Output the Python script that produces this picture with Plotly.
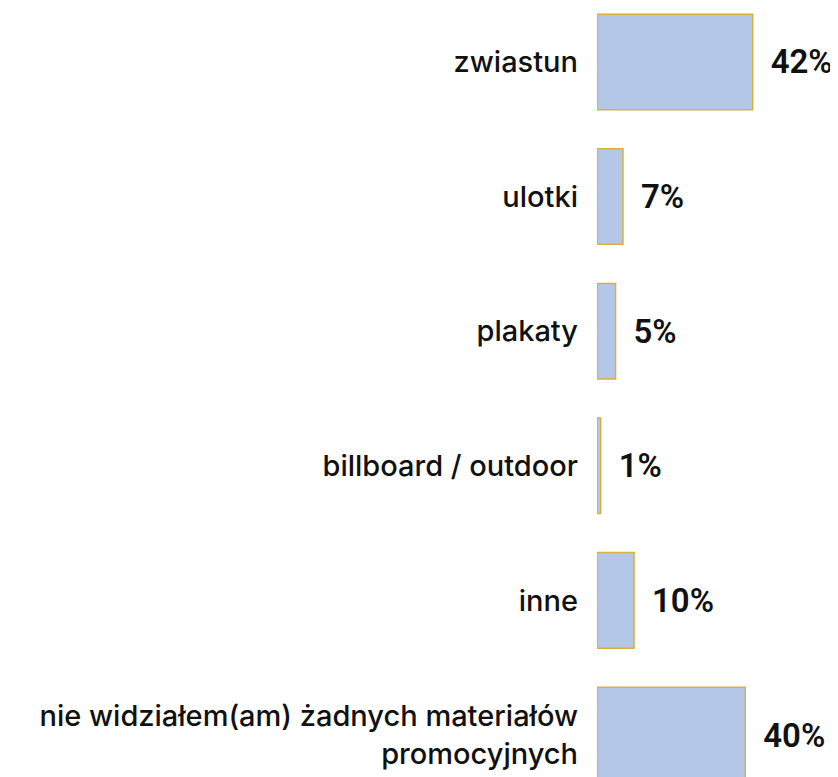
import plotly.graph_objects as go

categories = ["zwiastun", "ulotki", "plakaty", "billboard / outdoor", "inne",
              "nie widziałem(am) żadnych materiałów<br>promocyjnych"]
values = [42, 7, 5, 1, 10, 40]
labels = ["42%", "7%", "5%", "1%", "10%", "40%"]

fig = go.Figure(go.Bar(
    x=values, y=categories, orientation="h",
    marker=dict(color="#b4c7e7", line=dict(color="#dcae3c", width=1.5)),
    width=0.71,
    text=["\u00a0\u2009" + t for t in labels],
    textposition="outside",
    textfont=dict(family="Roboto", size=33, color="#111111", weight=600),
    constraintext="none",
    cliponaxis=False,
))

# the page body adds an 8px offset, so the figure is 8px smaller each way
fig.update_layout(
    width=830, height=769,
    margin=dict(l=589, r=0, t=0, b=0, autoexpand=False),
    paper_bgcolor="white", plot_bgcolor="white",
    showlegend=False,
    xaxis=dict(range=[0, 65], visible=False, fixedrange=True, automargin=False),
    yaxis=dict(
        range=[5.312, -0.401], showgrid=False, zeroline=False, showline=False,
        ticks="", ticklabelstandoff=18, automargin=False,
        tickfont=dict(family="Inter", size=29, color="#111111", weight=500),
    ),
)

fig.write_html("out.html")
